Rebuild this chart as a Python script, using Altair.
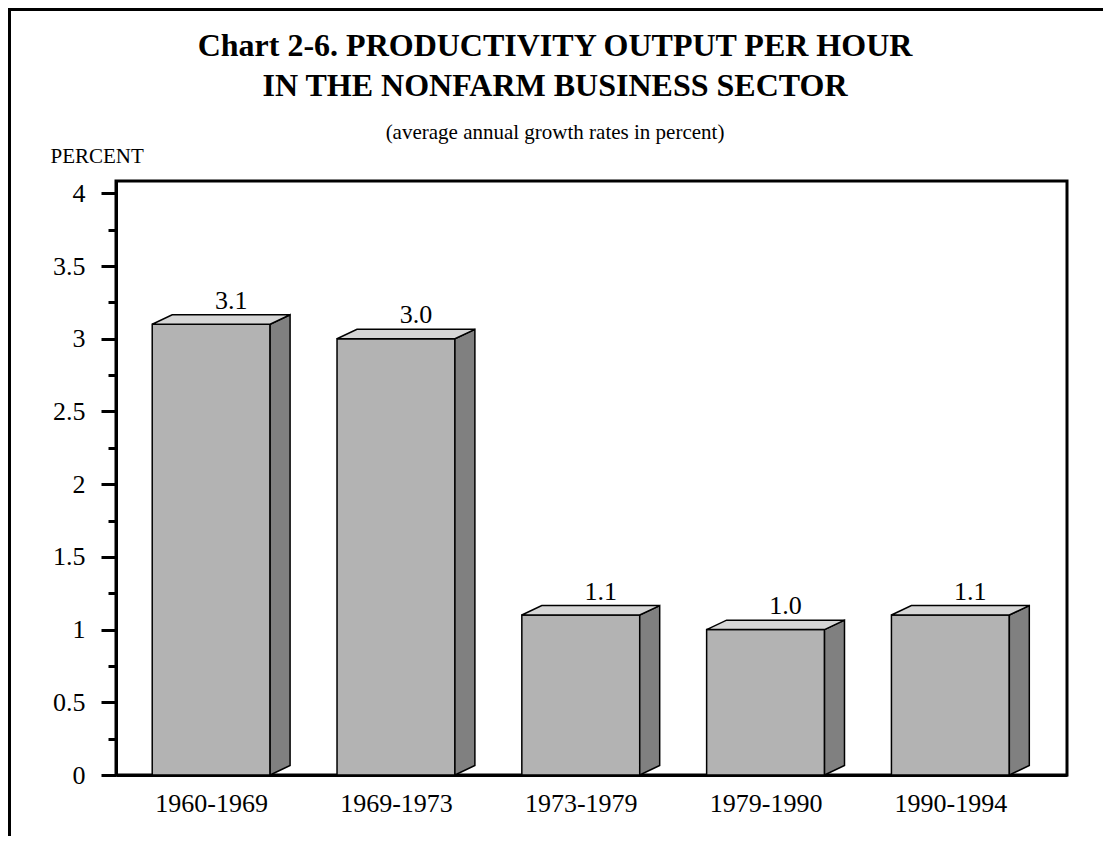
import altair as alt
import pandas as pd

# ---- data ----
categories = ["1960-1969", "1969-1973", "1973-1979", "1979-1990", "1990-1994"]
values = [3.1, 3.0, 1.1, 1.0, 1.1]
y_major = [0, 0.5, 1, 1.5, 2, 2.5, 3, 3.5, 4]
y_minor = [0.25, 0.75, 1.25, 1.75, 2.25, 2.75, 3.25, 3.75]
title_lines = ["Chart 2-6. PRODUCTIVITY OUTPUT PER HOUR", "IN THE NONFARM BUSINESS SECTOR"]
subtitle = "(average annual growth rates in percent)"
y_label = "PERCENT"

# ---- geometry of the pseudo-3D bars (in data units) ----
HW = 0.319   # half width of bar front
DX = 0.108   # depth offset along x
DY = 0.065   # depth offset along y

FONT = "Liberation Serif"
FRONT = "#b3b3b3"
TOPC = "#d6d6d6"
SIDE = "#808080"

front = pd.DataFrame({
    "cat": categories,
    "x0": [i - HW for i in range(len(categories))],
    "x1": [i + HW for i in range(len(categories))],
    "v": values,
    "zero": [0.0] * len(values),
})

side_rows, top_rows = [], []
for i, (c, v) in enumerate(zip(categories, values)):
    xl, xr = i - HW, i + HW
    side_rows += [
        {"cat": c, "x": xr, "top": v, "bot": 0.0},
        {"cat": c, "x": xr + DX, "top": v + DY, "bot": DY},
    ]
    top_rows += [
        {"cat": c, "x": xl, "top": v, "bot": v},
        {"cat": c, "x": xl + DX, "top": v + DY, "bot": v},
        {"cat": c, "x": xr, "top": v + DY, "bot": v},
        {"cat": c, "x": xr + DX, "top": v + DY, "bot": v + DY},
    ]
side = pd.DataFrame(side_rows)
topf = pd.DataFrame(top_rows)
labels = pd.DataFrame({
    "cat": categories,
    "x": [i + DX for i in range(len(categories))],
    "y": [v + DY for v in values],
    "txt": [f"{v:.1f}" for v in values],
})

xscale = alt.Scale(domain=[-0.515, 4.631], nice=False, zero=False)
yscale = alt.Scale(domain=[0, 4.085], nice=False, zero=False)

label_expr = "[" + ",".join(f"'{c}'" for c in categories) + "][datum.value]"

front_layer = alt.Chart(front).mark_rect(
    fill=FRONT, stroke="black", strokeWidth=1.5
).encode(
    x=alt.X("x0:Q", scale=xscale, axis=alt.Axis(
        orient="bottom", values=list(range(len(categories))), labelExpr=label_expr,
        title=None, grid=False, ticks=False, tickSize=0, labelFontSize=26,
        labelFont=FONT, labelColor="black", labelPadding=15, domainColor="black",
        domainWidth=3, labelFlush=False, labelOverlap=False)),
    x2="x1:Q",
    y=alt.Y("v:Q", scale=yscale, axis=alt.Axis(
        orient="left", values=y_major, format="~g", grid=False, tickSize=15,
        tickWidth=3, tickColor="black", domainColor="black", domainWidth=3,
        labelFontSize=26, labelFont=FONT, labelColor="black", labelPadding=16,
        title=y_label, titleFont=FONT, titleFontSize=21, titleFontWeight="normal",
        titleColor="black", titleAngle=0, titleAlign="left", titleBaseline="alphabetic",
        titleX=-66, titleY=-19)),
    y2="zero:Q",
)

side_layer = alt.Chart(side).mark_area(
    fill=SIDE, stroke="black", strokeWidth=1.5, interpolate="linear", opacity=1
).encode(
    x=alt.X("x:Q", scale=xscale, axis=None),
    y=alt.Y("top:Q", scale=yscale, axis=alt.Axis(
        orient="left", values=y_minor, labels=False, grid=False, domain=False,
        tickSize=8, tickWidth=3, tickColor="black", title=None)),
    y2="bot:Q",
    detail="cat:N",
)

top_layer = alt.Chart(topf).mark_area(
    fill=TOPC, stroke="black", strokeWidth=1.5, interpolate="linear", opacity=1
).encode(
    x=alt.X("x:Q", scale=xscale, axis=None),
    y=alt.Y("top:Q", scale=yscale, axis=None),
    y2="bot:Q",
    detail="cat:N",
)

text_layer = alt.Chart(labels).mark_text(
    font=FONT, fontSize=26, color="black", baseline="alphabetic", dy=-6
).encode(
    x=alt.X("x:Q", scale=xscale, axis=None),
    y=alt.Y("y:Q", scale=yscale, axis=None),
    text="txt:N",
)

frame_df = pd.DataFrame({"a": [0]})
frame_top = alt.Chart(frame_df).mark_rule(color="black", strokeWidth=3).encode(
    x=alt.value(-108), x2=alt.value(990), y=alt.value(-171.5))
frame_left = alt.Chart(frame_df).mark_rule(color="black", strokeWidth=3).encode(
    x=alt.value(-106.5), y=alt.value(-173), y2=alt.value(660))

chart = alt.layer(
    front_layer, side_layer, top_layer, text_layer, frame_top, frame_left
).resolve_axis(x="independent", y="independent").properties(
    width=951,
    height=594,
    background="white",
    autosize=alt.AutoSizeParams(type="none"),
    padding={"left": 108, "top": 173, "right": 36, "bottom": 61},
    title=alt.TitleParams(
        text=title_lines, subtitle=subtitle, font=FONT, fontSize=32,
        fontWeight="bold", color="black", lineHeight=40,
        subtitleFont=FONT, subtitleFontSize=21, subtitleColor="black",
        subtitlePadding=19, anchor="middle", frame="bounds", dx=-2, offset=-137,
    ),
).configure_view(stroke="black", strokeWidth=3)

chart.save("out.html", embed_options={"renderer": "svg", "actions": False})
